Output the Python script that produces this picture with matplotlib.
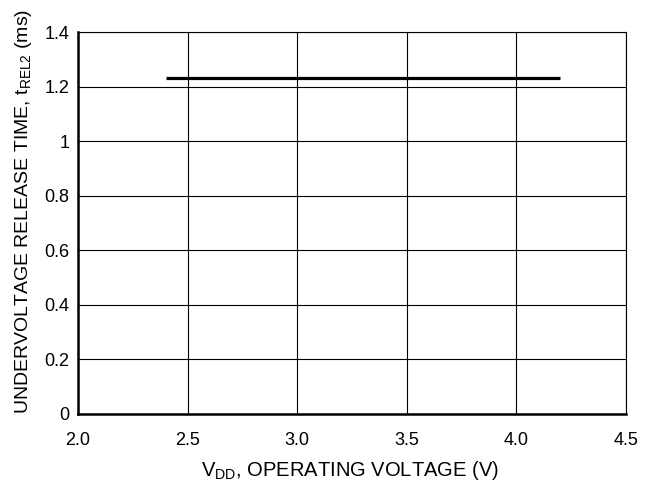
import matplotlib
matplotlib.use('Agg')
import matplotlib.pyplot as plt

plt.rcParams['font.family'] = ['Liberation Sans', 'DejaVu Sans']
plt.rcParams['mathtext.fontset'] = 'custom'
plt.rcParams['mathtext.rm'] = 'Liberation Sans'

# Release time vs supply voltage
vdd = [2.4, 4.2]
t_rel2 = [1.23, 1.23]

x_ticks = [2.0, 2.5, 3.0, 3.5, 4.0, 4.5]
x_labels = ['2.0', '2.5', '3.0', '3.5', '4.0', '4.5']
y_ticks = [0, 0.2, 0.4, 0.6, 0.8, 1.0, 1.2, 1.4]
y_labels = ['0', '0.2', '0.4', '0.6', '0.8', '1', '1.2', '1.4']

fig = plt.figure(figsize=(6.53, 4.94), dpi=100)
ax = fig.add_axes([0.1194, 0.162, 0.8393, 0.773])

ax.plot(vdd, t_rel2, color='black', linewidth=2.3, solid_capstyle='butt')

ax.set_xlim(2.0, 4.5)
ax.set_ylim(0, 1.4)
ax.set_xticks(x_ticks)
ax.set_xticklabels(x_labels)
ax.set_yticks(y_ticks)
ax.set_yticklabels(y_labels)
ax.tick_params(length=0, labelsize=13)
ax.tick_params(axis='x', pad=13)
ax.tick_params(axis='y', pad=6)
ax.grid(True, color='black', linewidth=0.8)

for side in ['top', 'right']:
    ax.spines[side].set_linewidth(0.8)
for side in ['left', 'bottom']:
    ax.spines[side].set_linewidth(1.8)

ax.set_xlabel(r'V$\mathregular{_{DD}}$, OPERATING VOLTAGE (V)', fontsize=14.5)
ax.set_ylabel(r'UNDERVOLTAGE RELEASE TIME, t$\mathregular{_{REL2}}$ (ms)', fontsize=14)
ax.xaxis.set_label_coords(0.497, -0.117)
ax.yaxis.set_label_coords(-0.080, 0.53)

fig.savefig('out.png', dpi=100)
